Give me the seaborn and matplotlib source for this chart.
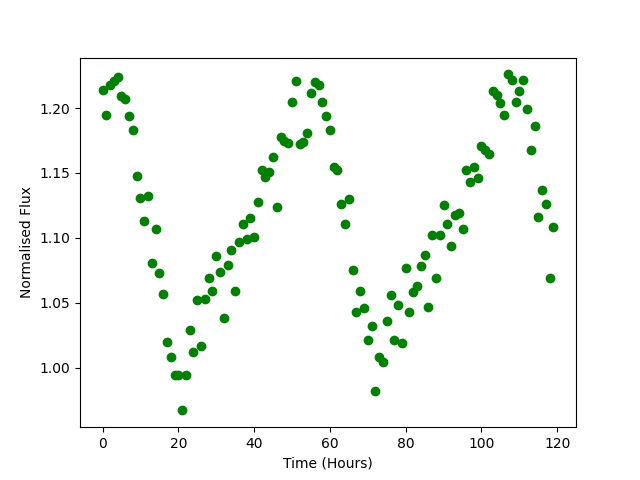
import numpy as np
import pandas as pd
import matplotlib
matplotlib.use("Agg")
import matplotlib.pyplot as plt
import seaborn as sns

# hourly flux readings
hours = list(range(120))
flux = [
    1.214, 1.195, 1.218, 1.221, 1.224, 1.209, 1.207, 1.194, 1.183, 1.148,
    1.131, 1.113, 1.132, 1.081, 1.107, 1.073, 1.057, 1.020, 1.008, 0.994,
    0.994, 0.967, 0.994, 1.029, 1.012, 1.052, 1.017, 1.053, 1.069, 1.059,
    1.086, 1.074, 1.038, 1.079, 1.091, 1.059, 1.097, 1.111, 1.099, 1.115,
    1.101, 1.128, 1.152, 1.147, 1.151, 1.162, 1.124, 1.178, 1.175, 1.173,
    1.205, 1.221, 1.172, 1.174, 1.181, 1.212, 1.220, 1.218, 1.205, 1.194,
    1.183, 1.155, 1.152, 1.126, 1.111, 1.130, 1.075, 1.043, 1.059, 1.046,
    1.021, 1.032, 0.982, 1.008, 1.004, 1.036, 1.056, 1.021, 1.048, 1.019,
    1.077, 1.043, 1.058, 1.063, 1.078, 1.087, 1.047, 1.102, 1.069, 1.102,
    1.125, 1.111, 1.094, 1.118, 1.119, 1.107, 1.152, 1.143, 1.155, 1.146,
    1.171, 1.168, 1.165, 1.213, 1.210, 1.204, 1.195, 1.226, 1.222, 1.205,
    1.213, 1.222, 1.199, 1.168, 1.186, 1.116, 1.137, 1.126, 1.069, 1.108,
]

df = pd.DataFrame({"Time (Hours)": hours, "Normalised Flux": flux})

fig, ax = plt.subplots(figsize=(6.4, 4.8), dpi=100)
sns.scatterplot(data=df, x="Time (Hours)", y="Normalised Flux", ax=ax,
                color="green", s=36, edgecolor="green", linewidth=1)
ax.set_xlabel("Time (Hours)")
ax.set_ylabel("Normalised Flux")

plt.savefig("out.png", dpi=100)
